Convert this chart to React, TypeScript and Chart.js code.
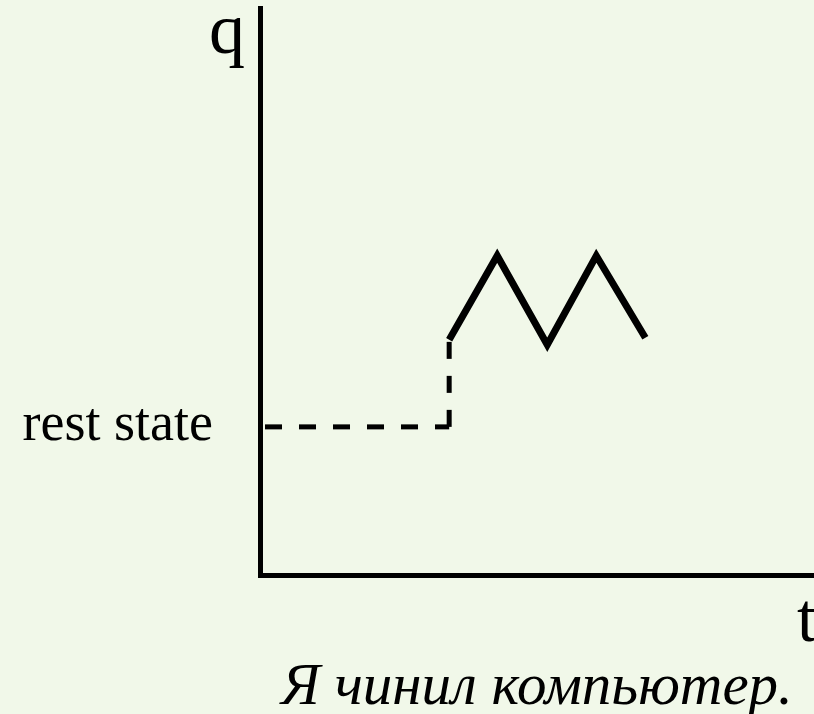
import React, { useEffect, useRef } from "react";
import { Chart, registerables } from "chart.js";

Chart.register(...registerables);

// ---- data (abstract units: time on x, q on y) ----
const xMax = 11.07;
const yMax = 11.33;
const restLevel = 2.96;
const restX = [0.1, 3.78];
const restY = [restLevel, restLevel];
const jumpX = [3.78, 3.78];
const jumpY = [restLevel, 4.7];
const zigX = [3.78, 4.74, 5.74, 6.72, 7.7];
const zigY = [4.7, 6.38, 4.6, 6.38, 4.74];

const yLabel = "q";
const xLabel = "t";
const restLabel = "rest state";
const caption = "Я чинил компьютер.";

const BG = "#f1f8e9";
const SERIF = "'Liberation Serif', 'Times New Roman', serif";

const pts = (xs: number[], ys: number[]) => xs.map((x, i) => ({ x, y: ys[i] }));

const textPlugin = {
  id: "textPlugin",
  beforeDraw(chart: any) {
    const { ctx, width, height } = chart;
    ctx.save();
    ctx.fillStyle = BG;
    ctx.fillRect(0, 0, width, height);
    ctx.restore();
  },
  afterDraw(chart: any) {
    const { ctx, chartArea } = chart;
    const ys = chart.scales.y;
    ctx.save();
    ctx.fillStyle = "#000";
    ctx.textBaseline = "alphabetic";
    // q
    ctx.font = `72px ${SERIF}`;
    ctx.textAlign = "right";
    ctx.fillText(yLabel, chartArea.left - 15, chartArea.top + 45);
    // rest state
    ctx.font = `54px ${SERIF}`;
    ctx.textAlign = "right";
    ctx.fillText(restLabel, chartArea.left - 47, ys.getPixelForValue(restLevel) + 13);
    // t
    ctx.font = `70px ${SERIF}`;
    ctx.textAlign = "left";
    ctx.fillText(xLabel, chartArea.right - 17, chartArea.bottom + 66);
    // caption
    ctx.font = `italic 59px ${SERIF}`;
    ctx.textAlign = "center";
    ctx.fillText(caption, (chartArea.left + chartArea.right) / 2, chartArea.bottom + 129);
    ctx.restore();
  },
};

export default function App() {
  const ref = useRef<HTMLCanvasElement | null>(null);
  useEffect(() => {
    document.body.style.margin = "0";
    document.body.style.background = BG;
    const chart = new Chart(ref.current as HTMLCanvasElement, {
      type: "scatter",
      data: {
        datasets: [
          {
            data: pts(restX, restY),
            showLine: true,
            borderColor: "#000",
            borderWidth: 5,
            borderDash: [17, 17],
            borderCapStyle: "butt",
            pointRadius: 0,
          },
          {
            data: pts(jumpX, jumpY),
            showLine: true,
            borderColor: "#000",
            borderWidth: 5,
            borderDash: [17, 17],
            borderCapStyle: "butt",
            pointRadius: 0,
          },
          {
            data: pts(zigX, zigY),
            showLine: true,
            borderColor: "#000",
            borderWidth: 7,
            borderCapStyle: "butt",
            borderJoinStyle: "miter",
            pointRadius: 0,
          },
        ],
      },
      options: {
        responsive: false,
        animation: false,
        events: [],
        layout: { padding: { left: 260, top: 8, right: 0, bottom: 139 } },
        plugins: { legend: { display: false }, tooltip: { enabled: false } },
        scales: {
          x: {
            type: "linear",
            min: 0,
            max: xMax,
            ticks: { display: false },
            grid: { display: false, drawTicks: false },
            border: { display: true, color: "#000", width: 5 },
          },
          y: {
            type: "linear",
            min: 0,
            max: yMax,
            ticks: { display: false },
            grid: { display: false, drawTicks: false },
            border: { display: true, color: "#000", width: 5 },
          },
        },
      },
      plugins: [textPlugin],
    } as any);
    return () => chart.destroy();
  }, []);
  return (
    <div style={{ position: "fixed", left: 0, top: 0, width: 814, height: 714, background: BG }}>
      <canvas ref={ref} width={814} height={714} style={{ display: "block" }} />
    </div>
  );
}
